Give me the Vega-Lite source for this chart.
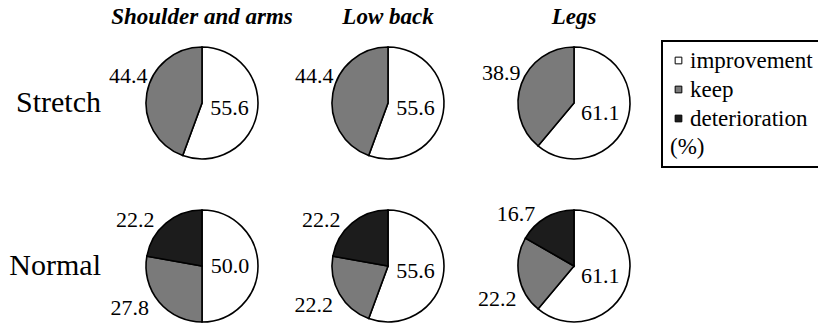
{
  "$schema": "https://vega.github.io/schema/vega-lite/v6.json",
  "padding": {"left": 9, "top": 6, "right": 0, "bottom": 0},
  "bounds": "flush",
  "background": "white",
  "data": {
    "values": [
      {"group": "Stretch", "region": "Shoulder and arms", "category": "improvement", "k": 1, "value": 55.6},
      {"group": "Stretch", "region": "Shoulder and arms", "category": "keep", "k": 2, "value": 44.4},
      {"group": "Stretch", "region": "Low back", "category": "improvement", "k": 1, "value": 55.6},
      {"group": "Stretch", "region": "Low back", "category": "keep", "k": 2, "value": 44.4},
      {"group": "Stretch", "region": "Legs", "category": "improvement", "k": 1, "value": 61.1},
      {"group": "Stretch", "region": "Legs", "category": "keep", "k": 2, "value": 38.9},
      {"group": "Normal", "region": "Shoulder and arms", "category": "improvement", "k": 1, "value": 50.0},
      {"group": "Normal", "region": "Shoulder and arms", "category": "keep", "k": 2, "value": 27.8},
      {"group": "Normal", "region": "Shoulder and arms", "category": "deterioration", "k": 3, "value": 22.2},
      {"group": "Normal", "region": "Low back", "category": "improvement", "k": 1, "value": 55.6},
      {"group": "Normal", "region": "Low back", "category": "keep", "k": 2, "value": 22.2},
      {"group": "Normal", "region": "Low back", "category": "deterioration", "k": 3, "value": 22.2},
      {"group": "Normal", "region": "Legs", "category": "improvement", "k": 1, "value": 61.1},
      {"group": "Normal", "region": "Legs", "category": "keep", "k": 2, "value": 22.2},
      {"group": "Normal", "region": "Legs", "category": "deterioration", "k": 3, "value": 16.7}
    ]
  },
  "facet": {
    "row": {
      "field": "group",
      "type": "nominal",
      "sort": ["Stretch", "Normal"],
      "header": {
        "title": null,
        "labelOrient": "left",
        "labelAngle": 0,
        "labelAlign": "left",
        "labelBaseline": "middle",
        "labelPadding": 26,
        "labelFont": "Liberation Serif",
        "labelFontSize": 30,
        "labelColor": "black"
      }
    },
    "column": {
      "field": "region",
      "type": "nominal",
      "sort": ["Shoulder and arms", "Low back", "Legs"],
      "header": {
        "title": null,
        "labelOrient": "top",
        "labelPadding": 12,
        "labelFont": "Liberation Serif",
        "labelFontSize": 23,
        "labelFontWeight": "bold",
        "labelFontStyle": "italic",
        "labelColor": "black"
      }
    }
  },
  "spacing": {"row": 39, "column": 36},
  "spec": {
    "width": 150,
    "height": 124,
    "encoding": {
      "theta": {"field": "value", "type": "quantitative", "stack": true},
      "order": {"field": "k", "type": "quantitative"}
    },
    "layer": [
      {
        "mark": {"type": "arc", "outerRadius": 56, "stroke": "black", "strokeWidth": 1.6},
        "encoding": {
          "color": {
            "field": "category",
            "type": "nominal",
            "scale": {
              "domain": ["improvement", "keep", "deterioration"],
              "range": ["#ffffff", "#7a7a7a", "#1c1c1c"]
            },
            "legend": {
              "title": "(%)",
              "titleOrient": "bottom",
              "orient": "right",
              "offset": 13,
              "padding": 8,
              "symbolOffset": -3,
              "rowPadding": 5,
              "titlePadding": 5
            }
          }
        }
      },
      {
        "mark": {"type": "text", "radius": 28, "font": "Liberation Serif", "fontSize": 22, "color": "black", "align": "center", "baseline": "middle"},
        "encoding": {
          "text": {
            "condition": {"test": "datum.category == 'improvement'", "field": "value", "type": "quantitative", "format": ".1f"},
            "value": ""
          }
        }
      },
      {
        "mark": {"type": "text", "radius": 20, "dx": -54, "dy": -23, "font": "Liberation Serif", "fontSize": 22, "color": "black", "align": "center", "baseline": "middle"},
        "encoding": {
          "text": {
            "condition": {"test": "datum.category == 'keep' && datum.group == 'Stretch'", "field": "value", "type": "quantitative", "format": ".1f"},
            "value": ""
          }
        }
      },
      {
        "mark": {"type": "text", "radius": 20, "dx": -57, "dy": 29, "font": "Liberation Serif", "fontSize": 22, "color": "black", "align": "center", "baseline": "middle"},
        "encoding": {
          "text": {
            "condition": {"test": "datum.category == 'keep' && datum.group == 'Normal'", "field": "value", "type": "quantitative", "format": ".1f"},
            "value": ""
          }
        }
      },
      {
        "mark": {"type": "text", "radius": 62, "dx": -27, "dy": 2, "font": "Liberation Serif", "fontSize": 22, "color": "black", "align": "center", "baseline": "middle"},
        "encoding": {
          "text": {
            "condition": {"test": "datum.category == 'deterioration'", "field": "value", "type": "quantitative", "format": ".1f"},
            "value": ""
          }
        }
      }
    ]
  },
  "config": {
    "view": {"stroke": null},
    "legend": {
      "labelFont": "Liberation Serif",
      "labelFontSize": 23,
      "labelColor": "black",
      "labelOffset": 0,
      "titleFont": "Liberation Serif",
      "titleFontSize": 23,
      "titleFontWeight": "normal",
      "titleColor": "black",
      "symbolType": "square",
      "symbolSize": 45,
      "symbolStrokeColor": "black",
      "symbolStrokeWidth": 1,
      "strokeColor": "black",
      "strokeWidth": 2,
      "fillColor": "white"
    }
  }
}
